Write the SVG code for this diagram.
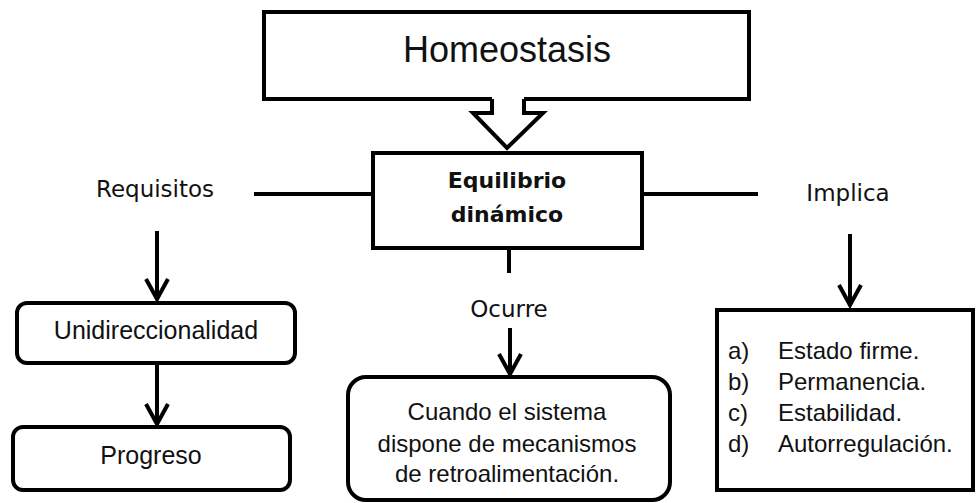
<svg xmlns="http://www.w3.org/2000/svg" width="976" height="503" viewBox="0 0 976 503">
<defs>
<style>
.box{fill:#fff;stroke:#000;stroke-width:4}
.ln{fill:none;stroke:#000;stroke-width:4}
.t{font-family:"Liberation Sans",Arial,sans-serif;fill:#111;text-anchor:middle}
.b{font-family:"DejaVu Sans",Verdana,sans-serif;font-weight:bold;font-size:22px;fill:#111;text-anchor:middle}
.lbl{font-family:"DejaVu Sans",Verdana,sans-serif;font-size:23px;fill:#111;text-anchor:middle}
.li{font-family:"Liberation Sans",Arial,sans-serif;font-size:24px;fill:#111}
</style>
<marker id="chev" markerUnits="userSpaceOnUse" orient="auto" markerWidth="30" markerHeight="30" refX="0" refY="0" overflow="visible">
<path d="M-20,-11 L0,0 L-20,11" fill="none" stroke="#000" stroke-width="4"/>
</marker>
</defs>
<g id="homeostasis">
<rect class="box" x="264" y="12" width="485" height="87"/>
<text class="t" x="507" y="62" font-size="36">Homeostasis</text>
</g>
<g id="equilibrio">
<rect class="box" x="373" y="153" width="269" height="95"/>
<text class="b" x="507" y="188">Equilibrio</text>
<text class="b" x="507" y="222">dinámico</text>
</g>
<g id="requisitos"><text class="lbl" x="155" y="197">Requisitos</text></g>
<g id="implica"><text class="lbl" x="848" y="201">Implica</text></g>
<g id="ocurre"><text class="lbl" x="509" y="317">Ocurre</text></g>
<g id="unidireccionalidad">
<rect class="box" x="17" y="303" width="278" height="60" rx="10"/>
<text class="t" x="156" y="339" font-size="25">Unidireccionalidad</text>
</g>
<g id="progreso">
<rect class="box" x="13" y="427" width="277" height="63" rx="10"/>
<text class="t" x="151" y="464" font-size="25">Progreso</text>
</g>
<g id="cuando">
<rect class="box" x="348" y="377" width="322" height="123" rx="18"/>
<text class="t" x="507" y="420" font-size="24">Cuando el sistema</text>
<text class="t" x="507" y="452" font-size="24">dispone de mecanismos</text>
<text class="t" x="507" y="482" font-size="24">de retroalimentación.</text>
</g>
<g id="lista">
<rect class="box" x="717" y="310" width="256" height="180"/>
<text class="li" x="728" y="359">a)</text><text class="li" x="778" y="359">Estado firme.</text>
<text class="li" x="728" y="390">b)</text><text class="li" x="778" y="390">Permanencia.</text>
<text class="li" x="728" y="421">c)</text><text class="li" x="778" y="421">Estabilidad.</text>
<text class="li" x="728" y="452">d)</text><text class="li" x="778" y="452">Autorregulación.</text>
</g>
<g id="connectors">
<polygon points="492,97 492,113 473,113 507,148 543,113 524,113 524,97" fill="#fff" stroke="none"/>
<polyline class="ln" points="492,99 492,113 473,113 507,148 543,113 524,113 524,99" stroke-linejoin="miter"/>
<line class="ln" x1="254" y1="194" x2="373" y2="194"/>
<line class="ln" x1="642" y1="194" x2="758" y2="194"/>
<line class="ln" x1="509" y1="248" x2="509" y2="273"/>
<line class="ln" x1="157" y1="231" x2="157" y2="299" marker-end="url(#chev)"/>
<line class="ln" x1="157" y1="363" x2="157" y2="424" marker-end="url(#chev)"/>
<line class="ln" x1="850" y1="234" x2="850" y2="305" marker-end="url(#chev)"/>
<line class="ln" x1="510" y1="328" x2="510" y2="374" marker-end="url(#chev)"/>
</g>
</svg>
